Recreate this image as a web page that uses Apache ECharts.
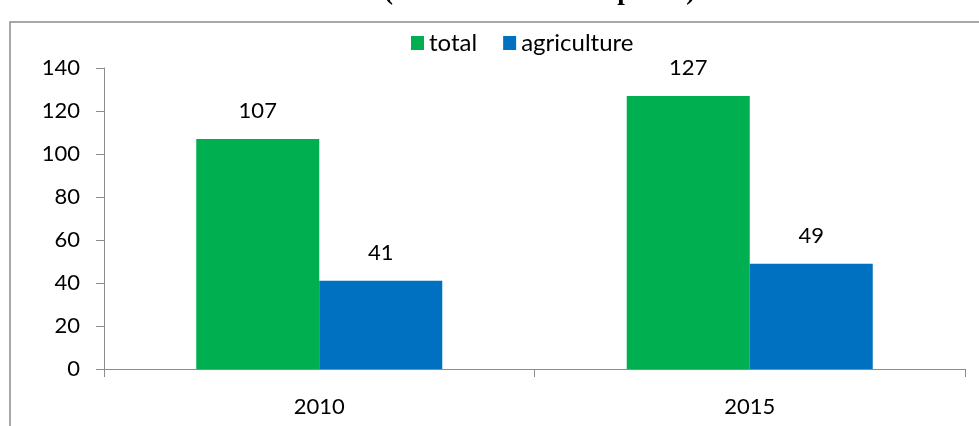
<!DOCTYPE html>
<html><head><meta charset="utf-8">
<script src="https://cdn.jsdelivr.net/npm/echarts@6/dist/echarts.min.js"></script>
<style>html,body{margin:0;padding:0;background:#fff}#c{width:979px;height:426px}</style>
</head><body><div id="c"></div>
<script>
const categories = ['2010', '2015'];
const totalValues = [107, 127];
const agricultureValues = [41, 49];
const yTicks = [0, 20, 40, 60, 80, 100, 120, 140];

const chart = echarts.init(document.getElementById('c'), null, {renderer: 'canvas'});
const font = 'Lato, "Open Sans", sans-serif';
chart.setOption({
  animation: false,
  graphic: [
    {type: 'rect', shape: {x: 10, y: 22, width: 1000, height: 420}, style: {fill: 'none', stroke: '#8c8c8c', lineWidth: 1.5}, silent: true},
    {type: 'text', left: 384, top: -21, style: {text: '(at constant market prices)', font: 'bold 27px "Liberation Serif", serif', fill: '#000'}}
  ],
  legend: {
    top: 26, left: 406,
    itemWidth: 13, itemHeight: 14, itemGap: 26,
    icon: 'rect',
    textStyle: {fontFamily: font, fontSize: 24, color: '#000'},
    data: ['total', 'agriculture']
  },
  grid: {left: 104, right: 14, top: 68, bottom: 57, containLabel: false},
  xAxis: {
    type: 'category', data: categories,
    axisLine: {lineStyle: {color: '#8c8c8c', width: 1}},
    axisTick: {show: true, length: 8, lineStyle: {color: '#8c8c8c'}},
    axisLabel: {fontFamily: font, fontSize: 22, color: '#000', margin: 27},
    splitLine: {show: false}
  },
  yAxis: {
    type: 'value', min: yTicks[0], max: yTicks[yTicks.length - 1], interval: 20,
    axisLine: {show: true, lineStyle: {color: '#8c8c8c', width: 1}},
    axisTick: {show: true, length: 8, lineStyle: {color: '#8c8c8c'}},
    axisLabel: {fontFamily: font, fontSize: 22, color: '#000', margin: 24},
    splitLine: {show: false}
  },
  series: [
    {name: 'total', type: 'bar', data: totalValues, barWidth: 123, barGap: '0%',
     itemStyle: {color: '#00B050'},
     label: {show: true, position: 'top', distance: 17, fontFamily: font, fontSize: 22, color: '#000'}},
    {name: 'agriculture', type: 'bar', data: agricultureValues, barWidth: 123, barGap: '0%',
     itemStyle: {color: '#0070C0'},
     label: {show: true, position: 'top', distance: 17, fontFamily: font, fontSize: 22, color: '#000'}}
  ]
});
</script></body></html>
